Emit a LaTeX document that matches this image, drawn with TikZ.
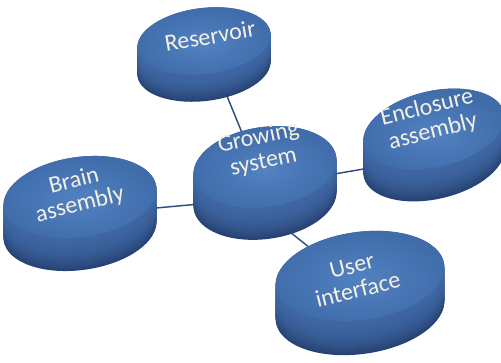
\documentclass[tikz,border=0pt]{standalone}
\usepackage{fontspec}
\setmainfont{Carlito}
\usepackage{tikz}
\usetikzlibrary{
    calc,
    positioning,
}
\definecolor{discTop}{RGB}{82,130,194}
\definecolor{discRim}{RGB}{64,108,170}
\definecolor{discSide}{RGB}{62,102,162}
\definecolor{discDark}{RGB}{38,66,114}
\definecolor{linkBlue}{RGB}{48,78,124}
\definecolor{labelCream}{RGB}{244,240,228}
\tikzstyle{link}=[draw=linkBlue,line width=1.1pt]
\tikzstyle{disclabel}=[text=labelCream,align=center,font=\fontsize{18}{18.5}\selectfont,inner sep=0pt]
% #1 tilt, #2 name, #3/#4 centre of the top face, #5/#6 radii, #7 thickness
\newcommand{\Disc}[7][8]{%
    \foreach \k in {#7,...,0}{
        \pgfmathsetmacro\p{100*(\k/#7)^2}
        \fill[discDark!\p!discSide,rotate around={#1:(#3,#4+\k)}] (#3,#4+\k) ellipse[x radius=#5,y radius=#6];
    }
    \shade[inner color=discTop,outer color=discRim,rotate around={#1:(#3,#4)}] (#3,#4) ellipse[x radius=#5,y radius=#6];
    \coordinate (#2) at (#3,#4);
}

\begin{document}
\begin{tikzpicture}[x=0.75pt,y=-0.75pt]
    \clip (0,0) rectangle (501,363);

    % ends of the links, tucked under the discs
    \coordinate (res-s) at (204,40);
    \coordinate (grow-n) at (245,140);
    \coordinate (grow-w) at (265,198);
    \coordinate (brain-e) at (80,215);
    \coordinate (grow-e) at (265,186);
    \coordinate (encl-w) at (433,157);
    \coordinate (grow-s) at (265,212);
    \coordinate (user-n) at (360,288);

    \draw[link] (res-s) -- (grow-n);
    \draw[link] (brain-e) -- (grow-w);
    \draw[link] (grow-e) -- (encl-w);
    \draw[link] (grow-s) -- (user-n);

    % discs, back to front
    \Disc[7]{Reservoir}{204}{41}{67}{33}{27}
    \Disc[13]{Enclosure}{434}{129}{72}{38}{32}
    \Disc[8]{Brain}{80}{197}{77}{40}{33}
    \Disc[8]{Growing}{265}{167}{72}{40}{32}
    \Disc[8]{User}{360}{276}{85}{44}{34}

    \node[disclabel,rotate=10] (resLbl) at (210,36) {Reservoir};
    \node[disclabel,rotate=12] (growLbl) at (261,150) {Growing\\system};
    \node[disclabel,rotate=14] (brainLbl) at (77,193) {Brain\\assembly};
    \node[disclabel,rotate=14] (enclLbl) at (430,120) {Enclosure\\assembly};
    \node[disclabel,rotate=14] (userLbl) at (355,278) {User\\interface};
\end{tikzpicture}
\end{document}
